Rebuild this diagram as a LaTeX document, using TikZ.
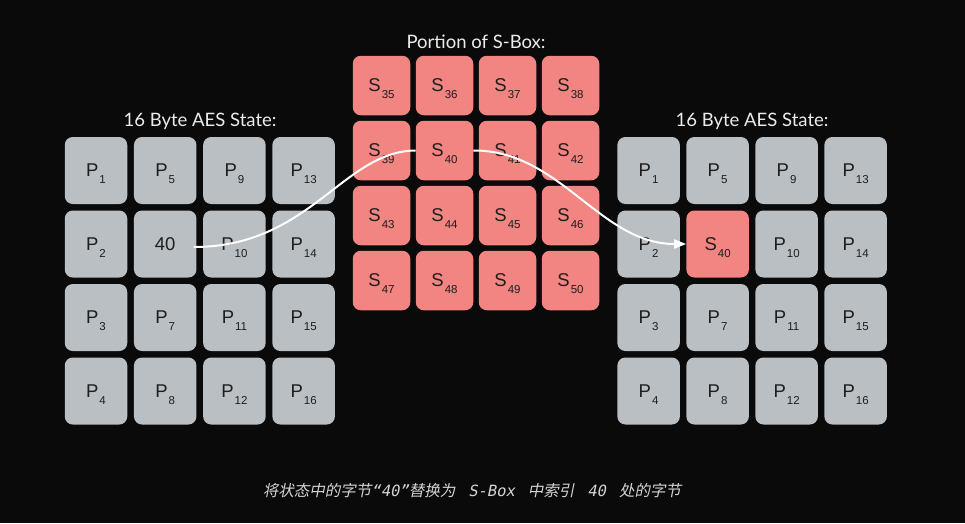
\documentclass[tikz,border=0pt]{standalone}
\usepackage{fontspec}
\setmainfont{Lato}
\newfontfamily\cellfont{Liberation Sans}
\newfontfamily\cjk[FakeSlant=0.2]{Noto Sans CJK SC}
\newfontfamily\monoit[FakeSlant=0.2]{DejaVu Sans Mono}
\usetikzlibrary{arrows.meta}
\definecolor{bgdark}{HTML}{0A0A0A}
\definecolor{stategrey}{HTML}{B9BFC3}
\definecolor{sboxred}{HTML}{F28482}
\definecolor{celltext}{HTML}{1E1E1E}
\definecolor{captiongrey}{HTML}{D4D4D4}
\tikzstyle{statecell}=[
	fill=stategrey,
	rounded corners=8pt,
	minimum width=62.5pt,
	minimum height=67pt,
	inner sep=0pt,
	text=celltext,
	font=\cellfont\fontsize{18.5}{18.5}\selectfont
]
\tikzstyle{sboxcell} = [statecell,fill=sboxred,minimum width=57.5pt,minimum height=59.5pt]
\tikzstyle{title} = [text=white!92!black,font=\fontsize{18.5}{20}\selectfont,anchor=base,inner sep=0pt]
\tikzstyle{flow} = [draw=white,line width=2pt,-{Triangle[length=12pt,width=9pt]}]
\newcommand{\cellsub}[2]{#1\kern1pt\raisebox{-7pt}[0pt][0pt]{\fontsize{11.5}{11.5}\selectfont #2}}
\newcommand{\capgap}{\hspace{13pt}}

\begin{document}
\begin{tikzpicture}[x=1pt,y=-1pt]

	\useasboundingbox (0,0) rectangle (965,523);
	\fill[bgdark] (0,0) rectangle (965,523);

	% state before
	\node[title] (leftTitle) at (200,126) {16 Byte AES State:};
	\foreach \c in {0,...,3}
		\foreach \r in {0,...,3} {
			\pgfmathtruncatemacro{\n}{1+\r+4*\c}
			\node[statecell] (L\n) at (96+69.2*\c,170.5+73.5*\r) {\ifnum\n=6 40\else\cellsub{P}{\n}\fi};
		}

	% s-box part
	\node[title] (sboxTitle) at (476,48) {Portion of S-Box:};
	\foreach \c in {0,...,3}
		\foreach \r in {0,...,3} {
			\pgfmathtruncatemacro{\n}{35+4*\r+\c}
			\node[sboxcell] (S\n) at (381.5+63*\c,85.5+65*\r) {\cellsub{S}{\n}};
		}

	% state after
	\node[title] (rightTitle) at (752,126) {16 Byte AES State:};
	\foreach \c in {0,...,3}
		\foreach \r in {0,...,3} {
			\pgfmathtruncatemacro{\n}{1+\r+4*\c}
			\ifnum\n=6
				\node[statecell,fill=sboxred] (R\n) at (648.6+69*\c,170.5+73.5*\r) {\cellsub{S}{40}};
			\else
				\node[statecell] (R\n) at (648.6+69*\c,170.5+73.5*\r) {\cellsub{P}{\n}};
			\fi
		}

	\path[flow]
	([xshift=-3pt,yshift=-3pt]L6.east) .. controls (310,247) and (343,151) .. (S40.west)
	(S40.east) .. controls (560,150) and (600,244) .. (R6.west);

	\node[anchor=base,inner sep=0pt,text=captiongrey,font=\fontsize{15.5}{15.5}\selectfont] (caption) at (472,496)
	{{\cjk 将状态中的字节}{\monoit “40”}{\cjk 替换为}\capgap{\monoit S-Box}\capgap{\cjk 中索引}\capgap{\monoit 40}\capgap{\cjk 处的字节}};

\end{tikzpicture}
\end{document}
